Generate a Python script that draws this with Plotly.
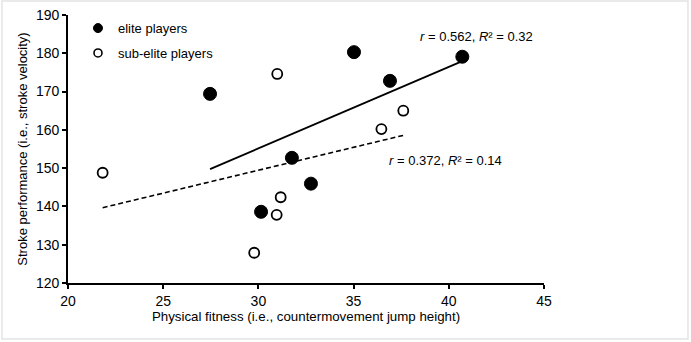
import numpy as np
import plotly.graph_objects as go

# Data
elite_x = [27.46, 35.02, 36.91, 40.71, 31.76, 32.76, 30.14]
elite_y = [169.4, 180.3, 172.8, 179.1, 152.7, 145.95, 138.6]
sub_x = [21.82, 30.99, 36.46, 37.61, 31.17, 30.96, 29.78]
sub_y = [148.8, 174.6, 160.2, 165.0, 142.4, 137.8, 127.9]

x_ticks = [20, 25, 30, 35, 40, 45]
y_ticks = [120, 130, 140, 150, 160, 170, 180, 190]

elite_label = "<i>r</i> = 0.562, <i>R</i>² = 0.32"
sub_label = "<i>r</i> = 0.372, <i>R</i>² = 0.14"


def fit_line(xs, ys):
    m, b = np.polyfit(xs, ys, 1)
    xr = np.array([min(xs), max(xs)])
    return xr, m * xr + b


FONT = "Liberation Sans, Arial, sans-serif"

fig = go.Figure()

ex, ey = fit_line(elite_x, elite_y)
sx, sy = fit_line(sub_x, sub_y)

fig.add_trace(go.Scatter(x=ex, y=ey, mode="lines", line=dict(color="black", width=1.8),
                         showlegend=False, hoverinfo="skip"))
fig.add_trace(go.Scatter(x=sx, y=sy, mode="lines", line=dict(color="black", width=1.6, dash="5px,3px"),
                         showlegend=False, hoverinfo="skip"))

fig.add_trace(go.Scatter(x=elite_x, y=elite_y, mode="markers", name="elite players",
                         showlegend=False,
                         marker=dict(symbol="circle", size=13, color="black",
                                     line=dict(color="black", width=1))))
fig.add_trace(go.Scatter(x=sub_x, y=sub_y, mode="markers", name="sub-elite players",
                         showlegend=False,
                         marker=dict(symbol="circle", size=10, color="white",
                                     line=dict(color="black", width=1.8))))

# legend entries (smaller symbols, like the reference legend)
fig.add_trace(go.Scatter(x=[None], y=[None], mode="markers", name="elite players",
                         legendgroup="a",
                         marker=dict(symbol="circle", size=9, color="black",
                                     line=dict(color="black", width=1))))
fig.add_trace(go.Scatter(x=[None], y=[None], mode="markers", name="sub-elite players",
                         legendgroup="b",
                         marker=dict(symbol="circle", size=8, color="white",
                                     line=dict(color="black", width=1.6))))

fig.add_annotation(x=41.48, y=184.3, xref="x", yref="y", text=elite_label, showarrow=False,
                   font=dict(family=FONT, size=13, color="black"))
fig.add_annotation(x=39.85, y=151.9, xref="x", yref="y", text=sub_label, showarrow=False,
                   font=dict(family=FONT, size=13, color="black"))

# outer light border
fig.add_shape(type="rect", xref="paper", yref="paper",
              x0=-0.1387, x1=1.3025, y0=-0.209, y1=1.0522,
              line=dict(color="#e4e4e4", width=1.5), layer="below")

axis_common = dict(showgrid=False, zeroline=False, showline=True, linecolor="black", linewidth=1.8,
                   ticks="outside", ticklen=4, tickwidth=1.5, tickcolor="black",
                   tickfont=dict(family=FONT, size=14, color="black"),
                   mirror=False, automargin=False)

fig.update_xaxes(range=[20, 45], tickvals=x_ticks, ticktext=[str(v) for v in x_ticks],
                 title=dict(text="Physical fitness (i.e., countermovement jump height)",
                            font=dict(family=FONT, size=13.3, color="black"), standoff=4),
                 **axis_common)
fig.update_yaxes(range=[120, 190], tickvals=y_ticks, ticktext=[str(v) for v in y_ticks],
                 title=dict(text="Stroke performance (i.e., stroke velocity)",
                            font=dict(family=FONT, size=13, color="black"), standoff=5),
                 **axis_common)

fig.update_layout(
    width=691, height=342,
    margin=dict(l=68, r=147, t=15, b=59),
    paper_bgcolor="white", plot_bgcolor="white",
    font=dict(family=FONT, size=13, color="black"),
    showlegend=True,
    legend=dict(x=0.021, y=1.007, xanchor="left", yanchor="top", bgcolor="rgba(0,0,0,0)",
                font=dict(family=FONT, size=13, color="black"), itemwidth=30,
                tracegroupgap=5),
)

fig.write_html("out.html", config={"displayModeBar": False},
               post_script="document.body.style.margin='0';document.body.style.overflow='hidden';")
